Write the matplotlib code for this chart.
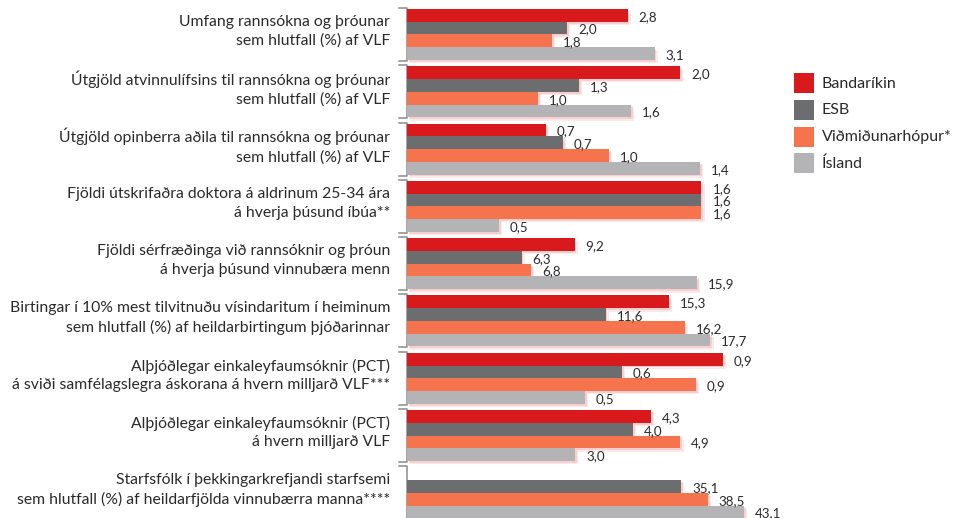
import numpy as np
import matplotlib
matplotlib.use("Agg")
import matplotlib.pyplot as plt
import matplotlib.patheffects as pe
from matplotlib.patches import Rectangle
from matplotlib.transforms import blended_transform_factory, offset_copy

plt.rcParams['font.family'] = ['Lato', 'DejaVu Sans']

# indicators (top to bottom)
categories = [
    "Umfang rannsókna og þróunar\nsem hlutfall (%) af VLF",
    "Útgjöld atvinnulífsins til rannsókna og þróunar\nsem hlutfall (%) af VLF",
    "Útgjöld opinberra aðila til rannsókna og þróunar\nsem hlutfall (%) af VLF",
    "Fjöldi útskrifaðra doktora á aldrinum 25-34 ára\ná hverja þúsund íbúa**",
    "Fjöldi sérfræðinga við rannsóknir og þróun\ná hverja þúsund vinnubæra menn",
    "Birtingar í 10% mest tilvitnuðu vísindaritum í heiminum\nsem hlutfall (%) af heildarbirtingum þjóðarinnar",
    "Alþjóðlegar einkaleyfaumsóknir (PCT)\ná sviði samfélagslegra áskorana á hvern milljarð VLF***",
    "Alþjóðlegar einkaleyfaumsóknir (PCT)\ná hvern milljarð VLF",
    "Starfsfólk í þekkingarkrefjandi starfsemi\nsem hlutfall (%) af heildarfjölda vinnubærra manna****",
]

series_names = ["Bandaríkin", "ESB", "Viðmiðunarhópur*", "Ísland"]

bandarikin = [2.77, 2.00, 0.66, 1.6, 9.2, 15.3, 0.94, 4.34, np.nan]
esb = [2.01, 1.26, 0.74, 1.6, 6.3, 11.6, 0.64, 4.02, 35.1]
vidmid = [1.82, 0.96, 0.96, 1.6, 6.8, 16.2, 0.86, 4.86, 38.5]
island = [3.11, 1.64, 1.39, 0.5, 15.9, 17.7, 0.53, 2.99, 43.1]

# each indicator has its own scale: value that would fill the whole bar area
scale_ref = [4.39, 2.56, 1.66, 1.90, 19.18, 20.41, 1.04, 6.22, 44.76]

colors = ["#d81a1d", "#6c6d6f", "#f5734d", "#b4b4b6"]

data = np.array([bandarikin, esb, vidmid, island])  # series x indicators
norm = data / np.array(scale_ref)

W, H = 958, 518
fig = plt.figure(figsize=(W / 100, H / 100), dpi=100)
ax = fig.add_axes([406.7 / W, 0, 350 / W, 1])

pitch = 57.3
bar_h = 12.75 / pitch
center0 = 34.5 / pitch
ax.set_ylim(H / pitch - center0, -center0)
ax.set_xlim(0, 1)
ax.axis("off")

shadow = [pe.SimplePatchShadow(offset=(2.4, -2.4), shadow_rgbFace="#e8585c", alpha=0.13),
          pe.SimplePatchShadow(offset=(1.3, -1.3), shadow_rgbFace="#e8585c", alpha=0.18),
          pe.Normal()]

ypos = np.arange(len(categories))
for k in range(4):
    y = ypos + (k - 1.5) * bar_h
    bars = ax.barh(y, norm[k], height=bar_h, color=colors[k], linewidth=0, zorder=3)
    for b in bars:
        b.set_path_effects(shadow)
    lab_tr = offset_copy(ax.transData, fig=fig, x=11, y=-1.5, units="dots")
    for yy, v, raw in zip(y, norm[k], data[k]):
        if np.isnan(raw):
            continue
        ax.text(v, yy, f"{raw:.1f}".replace(".", ","), transform=lab_tr,
                ha="left", va="center", fontsize=9.6, color="#2a2a2a", zorder=4)

# brackets and indicator labels
bt = blended_transform_factory(ax.transAxes, ax.transData)
half = 26.5 / pitch
tick = 8 / 350
txt_tr = offset_copy(bt, fig=fig, x=0, y=3, units="dots")
for g, name in enumerate(categories):
    ax.plot([-tick, 0, 0, -tick], [g - half, g - half, g + half, g + half],
            color="#8c8c8c", lw=1.1, transform=bt, clip_on=False, zorder=2)
    ax.text(-16.7 / 350, g, name, transform=txt_tr, ha="right", va="center",
            fontsize=11.3, color="#2a2a2a", linespacing=1.4)

# legend (drawn by hand in figure fractions)
for i, (name, c) in enumerate(zip(series_names, colors)):
    top = 73.3 + i * 26.7
    fig.patches.append(Rectangle((794 / W, 1 - (top + 20) / H), 20 / W, 20 / H,
                                 transform=fig.transFigure, facecolor=c,
                                 edgecolor="none"))
    fig.text(821.7 / W, 1 - (top + 10.5) / H, name, ha="left", va="center",
             fontsize=11.5, color="#2a2a2a")

fig.savefig("out.png", dpi=100)
